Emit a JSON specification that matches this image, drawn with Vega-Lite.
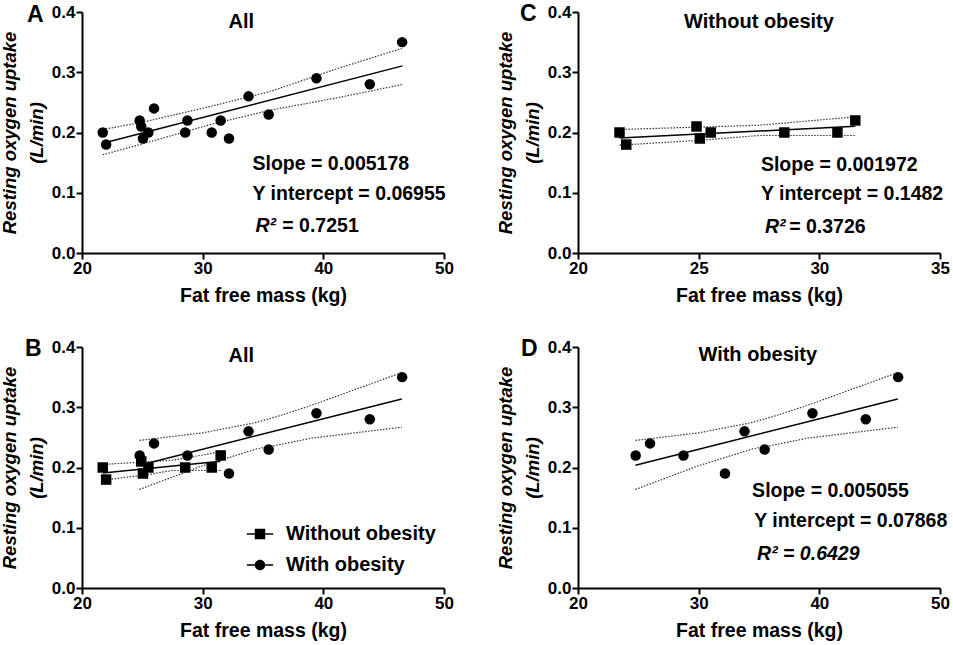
{
  "$schema": "https://vega.github.io/schema/vega-lite/v6.json",
  "background": "white",
  "padding": {"left": 0, "top": 2, "right": 3, "bottom": 3},
  "datasets": {
    "pts": [
      {"group": "Without obesity", "ffm": 21.72, "vo2": 0.20},
      {"group": "Without obesity", "ffm": 22.0, "vo2": 0.18},
      {"group": "Without obesity", "ffm": 24.91, "vo2": 0.21},
      {"group": "Without obesity", "ffm": 25.05, "vo2": 0.19},
      {"group": "Without obesity", "ffm": 25.5, "vo2": 0.20},
      {"group": "Without obesity", "ffm": 28.55, "vo2": 0.20},
      {"group": "Without obesity", "ffm": 30.75, "vo2": 0.20},
      {"group": "Without obesity", "ffm": 31.49, "vo2": 0.22},
      {"group": "With obesity", "ffm": 24.78, "vo2": 0.22},
      {"group": "With obesity", "ffm": 25.97, "vo2": 0.24},
      {"group": "With obesity", "ffm": 28.74, "vo2": 0.22},
      {"group": "With obesity", "ffm": 32.18, "vo2": 0.19},
      {"group": "With obesity", "ffm": 33.8, "vo2": 0.26},
      {"group": "With obesity", "ffm": 35.47, "vo2": 0.23},
      {"group": "With obesity", "ffm": 39.43, "vo2": 0.29},
      {"group": "With obesity", "ffm": 43.85, "vo2": 0.28},
      {"group": "With obesity", "ffm": 46.53, "vo2": 0.35}
    ],
    "fits": [
      {"group": "All", "ffm": 21.72, "vo2": 0.1820},
      {"group": "All", "ffm": 46.56, "vo2": 0.3106},
      {"group": "Without obesity", "ffm": 21.72, "vo2": 0.1910},
      {"group": "Without obesity", "ffm": 31.49, "vo2": 0.2103},
      {"group": "With obesity", "ffm": 24.76, "vo2": 0.2038},
      {"group": "With obesity", "ffm": 46.5, "vo2": 0.3137}
    ],
    "bands": [
      {"group": "All", "band": "All upper", "ffm": 21.72, "vo2": 0.205},
      {"group": "All", "band": "All upper", "ffm": 25.0, "vo2": 0.217},
      {"group": "All", "band": "All upper", "ffm": 30.6, "vo2": 0.243},
      {"group": "All", "band": "All upper", "ffm": 35.6, "vo2": 0.268},
      {"group": "All", "band": "All upper", "ffm": 41.0, "vo2": 0.305},
      {"group": "All", "band": "All upper", "ffm": 46.5, "vo2": 0.3395},
      {"group": "All", "band": "All lower", "ffm": 21.72, "vo2": 0.163},
      {"group": "All", "band": "All lower", "ffm": 25.0, "vo2": 0.181},
      {"group": "All", "band": "All lower", "ffm": 30.6, "vo2": 0.213},
      {"group": "All", "band": "All lower", "ffm": 35.6, "vo2": 0.237},
      {"group": "All", "band": "All lower", "ffm": 41.0, "vo2": 0.257},
      {"group": "All", "band": "All lower", "ffm": 46.5, "vo2": 0.2795},
      {"group": "Without obesity", "band": "Without upper", "ffm": 21.72, "vo2": 0.205},
      {"group": "Without obesity", "band": "Without upper", "ffm": 25.03, "vo2": 0.209},
      {"group": "Without obesity", "band": "Without upper", "ffm": 27.5, "vo2": 0.212},
      {"group": "Without obesity", "band": "Without upper", "ffm": 31.49, "vo2": 0.226},
      {"group": "Without obesity", "band": "Without lower", "ffm": 21.72, "vo2": 0.179},
      {"group": "Without obesity", "band": "Without lower", "ffm": 25.03, "vo2": 0.187},
      {"group": "Without obesity", "band": "Without lower", "ffm": 27.5, "vo2": 0.195},
      {"group": "Without obesity", "band": "Without lower", "ffm": 31.49, "vo2": 0.195},
      {"group": "With obesity", "band": "With upper", "ffm": 24.76, "vo2": 0.245},
      {"group": "With obesity", "band": "With upper", "ffm": 30.0, "vo2": 0.2575},
      {"group": "With obesity", "band": "With upper", "ffm": 34.5, "vo2": 0.275},
      {"group": "With obesity", "band": "With upper", "ffm": 36.65, "vo2": 0.2876},
      {"group": "With obesity", "band": "With upper", "ffm": 39.0, "vo2": 0.303},
      {"group": "With obesity", "band": "With upper", "ffm": 46.5, "vo2": 0.3576},
      {"group": "With obesity", "band": "With lower", "ffm": 24.76, "vo2": 0.1636},
      {"group": "With obesity", "band": "With lower", "ffm": 30.0, "vo2": 0.203},
      {"group": "With obesity", "band": "With lower", "ffm": 34.5, "vo2": 0.231},
      {"group": "With obesity", "band": "With lower", "ffm": 36.65, "vo2": 0.239},
      {"group": "With obesity", "band": "With lower", "ffm": 39.0, "vo2": 0.2486},
      {"group": "With obesity", "band": "With lower", "ffm": 46.5, "vo2": 0.267}
    ]
  },
  "columns": 2,
  "spacing": {"row": 94, "column": 134},
  "bounds": "flush",
  "resolve": {"scale": {"shape": "independent"}, "legend": {"shape": "independent"}},
  "concat": [
    {
      "width": 362, "height": 241,
      "layer": [
        {"data": {"name": "bands"}, "transform": [{"filter": "datum.group === 'All'"}], "mark": {"type": "line", "strokeDash": [1.5, 1.5], "strokeWidth": 1.2, "color": "#333"},
          "encoding": {
            "x": {"field": "ffm", "type": "quantitative", "scale": {"domain": [20, 50]}, "axis": {"values": [20, 30, 40, 50]}, "title": "Fat free mass (kg)"},
            "y": {"field": "vo2", "type": "quantitative", "scale": {"domain": [0, 0.4]}, "axis": {"values": [0, 0.1, 0.2, 0.3, 0.4], "format": ".1f"}, "title": ["Resting oxygen uptake", "(L/min)"]},
            "detail": {"field": "band"}}},
        {"data": {"name": "fits"}, "transform": [{"filter": "datum.group === 'All'"}], "mark": {"type": "line", "strokeWidth": 1.5, "color": "black"},
          "encoding": {
            "x": {"field": "ffm", "type": "quantitative", "scale": {"domain": [20, 50]}, "title": "Fat free mass (kg)"},
            "y": {"field": "vo2", "type": "quantitative", "scale": {"domain": [0, 0.4]}, "title": ["Resting oxygen uptake", "(L/min)"]},
            "detail": {"field": "group"}}},
        {"data": {"name": "pts"}, "mark": {"type": "point", "filled": true, "opacity": 1, "color": "black", "size": 110, "shape": "circle"},
          "encoding": {
            "x": {"field": "ffm", "type": "quantitative", "scale": {"domain": [20, 50]}, "title": "Fat free mass (kg)"},
            "y": {"field": "vo2", "type": "quantitative", "scale": {"domain": [0, 0.4]}, "title": ["Resting oxygen uptake", "(L/min)"]}}},
        {"data": {"values": [{}]}, "mark": {"type": "text", "fontSize": 23, "fontWeight": "bold", "align": "left", "baseline": "middle", "color": "black"}, "encoding": {"x": {"datum": 15.44, "type": "quantitative", "scale": {"domain": [20, 50]}}, "y": {"datum": 0.395, "type": "quantitative", "scale": {"domain": [0, 0.4]}}, "text": {"value": "A"}}},
        {"data": {"values": [{}]}, "mark": {"type": "text", "fontSize": 20, "fontWeight": "bold", "align": "center", "baseline": "middle", "color": "black"}, "encoding": {"x": {"datum": 33.2, "type": "quantitative", "scale": {"domain": [20, 50]}}, "y": {"datum": 0.383, "type": "quantitative", "scale": {"domain": [0, 0.4]}}, "text": {"value": "All"}}},
        {"data": {"values": [{}]}, "mark": {"type": "text", "fontSize": 19.5, "fontWeight": "bold", "align": "left", "baseline": "middle", "color": "black"}, "encoding": {"x": {"datum": 34.13, "type": "quantitative", "scale": {"domain": [20, 50]}}, "y": {"datum": 0.148, "type": "quantitative", "scale": {"domain": [0, 0.4]}}, "text": {"value": "Slope = 0.005178"}}},
        {"data": {"values": [{}]}, "mark": {"type": "text", "fontSize": 19.5, "fontWeight": "bold", "align": "left", "baseline": "middle", "color": "black"}, "encoding": {"x": {"datum": 34.13, "type": "quantitative", "scale": {"domain": [20, 50]}}, "y": {"datum": 0.098, "type": "quantitative", "scale": {"domain": [0, 0.4]}}, "text": {"value": "Y intercept = 0.06955"}}},
        {"data": {"values": [{}]}, "mark": {"type": "text", "fontSize": 19.5, "fontWeight": "bold", "fontStyle": "italic", "align": "left", "baseline": "middle", "color": "black"}, "encoding": {"x": {"datum": 34.38, "type": "quantitative", "scale": {"domain": [20, 50]}}, "y": {"datum": 0.045, "type": "quantitative", "scale": {"domain": [0, 0.4]}}, "text": {"value": "R²"}}},
        {"data": {"values": [{}]}, "mark": {"type": "text", "fontSize": 19.5, "fontWeight": "bold", "align": "left", "baseline": "middle", "color": "black"}, "encoding": {"x": {"datum": 36.6, "type": "quantitative", "scale": {"domain": [20, 50]}}, "y": {"datum": 0.045, "type": "quantitative", "scale": {"domain": [0, 0.4]}}, "text": {"value": "= 0.7251"}}}
      ]
    },
    {
      "width": 362, "height": 241,
      "layer": [
        {"data": {"name": "bands"}, "transform": [{"filter": "datum.group === 'Without obesity'"}], "mark": {"type": "line", "strokeDash": [1.5, 1.5], "strokeWidth": 1.2, "color": "#333"},
          "encoding": {
            "x": {"field": "ffm", "type": "quantitative", "scale": {"domain": [20, 35]}, "axis": {"values": [20, 25, 30, 35]}, "title": "Fat free mass (kg)"},
            "y": {"field": "vo2", "type": "quantitative", "scale": {"domain": [0, 0.4]}, "axis": {"values": [0, 0.1, 0.2, 0.3, 0.4], "format": ".1f"}, "title": ["Resting oxygen uptake", "(L/min)"]},
            "detail": {"field": "band"}}},
        {"data": {"name": "fits"}, "transform": [{"filter": "datum.group === 'Without obesity'"}], "mark": {"type": "line", "strokeWidth": 1.5, "color": "black"},
          "encoding": {
            "x": {"field": "ffm", "type": "quantitative", "scale": {"domain": [20, 35]}, "title": "Fat free mass (kg)"},
            "y": {"field": "vo2", "type": "quantitative", "scale": {"domain": [0, 0.4]}, "title": ["Resting oxygen uptake", "(L/min)"]},
            "detail": {"field": "group"}}},
        {"data": {"name": "pts"}, "transform": [{"filter": "datum.group === 'Without obesity'"}], "mark": {"type": "point", "filled": true, "opacity": 1, "color": "black", "size": 110, "shape": "square"},
          "encoding": {
            "x": {"field": "ffm", "type": "quantitative", "scale": {"domain": [20, 35]}, "title": "Fat free mass (kg)"},
            "y": {"field": "vo2", "type": "quantitative", "scale": {"domain": [0, 0.4]}, "title": ["Resting oxygen uptake", "(L/min)"]}}},
        {"data": {"values": [{}]}, "mark": {"type": "text", "fontSize": 23, "fontWeight": "bold", "align": "left", "baseline": "middle", "color": "black"}, "encoding": {"x": {"datum": 17.6, "type": "quantitative", "scale": {"domain": [20, 35]}}, "y": {"datum": 0.397, "type": "quantitative", "scale": {"domain": [0, 0.4]}}, "text": {"value": "C"}}},
        {"data": {"values": [{}]}, "mark": {"type": "text", "fontSize": 20, "fontWeight": "bold", "align": "center", "baseline": "middle", "color": "black"}, "encoding": {"x": {"datum": 27.5, "type": "quantitative", "scale": {"domain": [20, 35]}}, "y": {"datum": 0.384, "type": "quantitative", "scale": {"domain": [0, 0.4]}}, "text": {"value": "Without obesity"}}},
        {"data": {"values": [{}]}, "mark": {"type": "text", "fontSize": 19.5, "fontWeight": "bold", "align": "left", "baseline": "middle", "color": "black"}, "encoding": {"x": {"datum": 27.58, "type": "quantitative", "scale": {"domain": [20, 35]}}, "y": {"datum": 0.146, "type": "quantitative", "scale": {"domain": [0, 0.4]}}, "text": {"value": "Slope = 0.001972"}}},
        {"data": {"values": [{}]}, "mark": {"type": "text", "fontSize": 19.5, "fontWeight": "bold", "align": "left", "baseline": "middle", "color": "black"}, "encoding": {"x": {"datum": 27.58, "type": "quantitative", "scale": {"domain": [20, 35]}}, "y": {"datum": 0.098, "type": "quantitative", "scale": {"domain": [0, 0.4]}}, "text": {"value": "Y intercept = 0.1482"}}},
        {"data": {"values": [{}]}, "mark": {"type": "text", "fontSize": 19.5, "fontWeight": "bold", "fontStyle": "italic", "align": "left", "baseline": "middle", "color": "black"}, "encoding": {"x": {"datum": 27.75, "type": "quantitative", "scale": {"domain": [20, 35]}}, "y": {"datum": 0.043, "type": "quantitative", "scale": {"domain": [0, 0.4]}}, "text": {"value": "R²"}}},
        {"data": {"values": [{}]}, "mark": {"type": "text", "fontSize": 19.5, "fontWeight": "bold", "align": "left", "baseline": "middle", "color": "black"}, "encoding": {"x": {"datum": 28.75, "type": "quantitative", "scale": {"domain": [20, 35]}}, "y": {"datum": 0.043, "type": "quantitative", "scale": {"domain": [0, 0.4]}}, "text": {"value": "= 0.3726"}}}
      ]
    },
    {
      "width": 362, "height": 241,
      "resolve": {"scale": {"shape": "independent"}},
      "layer": [
        {"data": {"name": "bands"}, "transform": [{"filter": "datum.group !== 'All'"}], "mark": {"type": "line", "strokeDash": [1.5, 1.5], "strokeWidth": 1.2, "color": "#333"},
          "encoding": {
            "x": {"field": "ffm", "type": "quantitative", "scale": {"domain": [20, 50]}, "axis": {"values": [20, 30, 40, 50]}, "title": "Fat free mass (kg)"},
            "y": {"field": "vo2", "type": "quantitative", "scale": {"domain": [0, 0.4]}, "axis": {"values": [0, 0.1, 0.2, 0.3, 0.4], "format": ".1f"}, "title": ["Resting oxygen uptake", "(L/min)"]},
            "detail": {"field": "band"}}},
        {"data": {"name": "fits"}, "transform": [{"filter": "datum.group !== 'All'"}], "mark": {"type": "line", "strokeWidth": 1.5, "color": "black"},
          "encoding": {
            "x": {"field": "ffm", "type": "quantitative", "scale": {"domain": [20, 50]}, "title": "Fat free mass (kg)"},
            "y": {"field": "vo2", "type": "quantitative", "scale": {"domain": [0, 0.4]}, "title": ["Resting oxygen uptake", "(L/min)"]},
            "detail": {"field": "group"}}},
        {"data": {"name": "pts"}, "transform": [{"filter": "datum.group === 'Without obesity'"}], "mark": {"type": "point", "filled": true, "opacity": 1, "color": "black", "size": 110, "shape": "square"},
          "encoding": {
            "x": {"field": "ffm", "type": "quantitative", "scale": {"domain": [20, 50]}, "title": "Fat free mass (kg)"},
            "y": {"field": "vo2", "type": "quantitative", "scale": {"domain": [0, 0.4]}, "title": ["Resting oxygen uptake", "(L/min)"]}}},
        {"data": {"name": "pts"}, "transform": [{"filter": "datum.group === 'With obesity'"}], "mark": {"type": "point", "filled": true, "opacity": 1, "color": "black", "size": 110, "shape": "circle"},
          "encoding": {
            "x": {"field": "ffm", "type": "quantitative", "scale": {"domain": [20, 50]}, "title": "Fat free mass (kg)"},
            "y": {"field": "vo2", "type": "quantitative", "scale": {"domain": [0, 0.4]}, "title": ["Resting oxygen uptake", "(L/min)"]}}},
        {"data": {"name": "pts"}, "transform": [{"filter": "datum.vo2 > 1"}], "mark": {"type": "point", "filled": true, "color": "black", "opacity": 1, "size": 110},
          "encoding": {
            "x": {"field": "ffm", "type": "quantitative", "scale": {"domain": [20, 50]}, "title": "Fat free mass (kg)"},
            "y": {"field": "vo2", "type": "quantitative", "scale": {"domain": [0, 0.4]}, "title": ["Resting oxygen uptake", "(L/min)"]},
            "shape": {"field": "group", "type": "nominal",
              "scale": {"domain": ["Without obesity", "With obesity"], "range": ["M-2.5,-0.14H-1V0.14H-2.5ZM1,-0.14H2.5V0.14H1ZM-1,-1H1V1H-1Z", "M-2.5,-0.14H-1V0.14H-2.5ZM1,-0.14H2.5V0.14H1ZM-1,0A1,1,0,1,1,1,0A1,1,0,1,1,-1,0Z"]},
              "legend": {"title": null, "orient": "none", "legendX": 168, "legendY": 177, "padding": 0, "labelFontSize": 20, "labelFontWeight": "bold", "labelColor": "black", "labelLimit": 300, "labelOffset": 16, "rowPadding": 11, "symbolSize": 110, "symbolFillColor": "black", "symbolStrokeWidth": 0, "symbolOpacity": 1}}}},
        {"data": {"values": [{}]}, "mark": {"type": "text", "fontSize": 23, "fontWeight": "bold", "align": "left", "baseline": "middle", "color": "black"}, "encoding": {"x": {"datum": 15.28, "type": "quantitative", "scale": {"domain": [20, 50]}}, "y": {"datum": 0.397, "type": "quantitative", "scale": {"domain": [0, 0.4]}}, "text": {"value": "B"}}},
        {"data": {"values": [{}]}, "mark": {"type": "text", "fontSize": 20, "fontWeight": "bold", "align": "center", "baseline": "middle", "color": "black"}, "encoding": {"x": {"datum": 33.2, "type": "quantitative", "scale": {"domain": [20, 50]}}, "y": {"datum": 0.385, "type": "quantitative", "scale": {"domain": [0, 0.4]}}, "text": {"value": "All"}}}
      ]
    },
    {
      "width": 362, "height": 241,
      "layer": [
        {"data": {"name": "bands"}, "transform": [{"filter": "datum.group === 'With obesity'"}], "mark": {"type": "line", "strokeDash": [1.5, 1.5], "strokeWidth": 1.2, "color": "#333"},
          "encoding": {
            "x": {"field": "ffm", "type": "quantitative", "scale": {"domain": [20, 50]}, "axis": {"values": [20, 30, 40, 50]}, "title": "Fat free mass (kg)"},
            "y": {"field": "vo2", "type": "quantitative", "scale": {"domain": [0, 0.4]}, "axis": {"values": [0, 0.1, 0.2, 0.3, 0.4], "format": ".1f"}, "title": ["Resting oxygen uptake", "(L/min)"]},
            "detail": {"field": "band"}}},
        {"data": {"name": "fits"}, "transform": [{"filter": "datum.group === 'With obesity'"}], "mark": {"type": "line", "strokeWidth": 1.5, "color": "black"},
          "encoding": {
            "x": {"field": "ffm", "type": "quantitative", "scale": {"domain": [20, 50]}, "title": "Fat free mass (kg)"},
            "y": {"field": "vo2", "type": "quantitative", "scale": {"domain": [0, 0.4]}, "title": ["Resting oxygen uptake", "(L/min)"]},
            "detail": {"field": "group"}}},
        {"data": {"name": "pts"}, "transform": [{"filter": "datum.group === 'With obesity'"}], "mark": {"type": "point", "filled": true, "opacity": 1, "color": "black", "size": 110, "shape": "circle"},
          "encoding": {
            "x": {"field": "ffm", "type": "quantitative", "scale": {"domain": [20, 50]}, "title": "Fat free mass (kg)"},
            "y": {"field": "vo2", "type": "quantitative", "scale": {"domain": [0, 0.4]}, "title": ["Resting oxygen uptake", "(L/min)"]}}},
        {"data": {"values": [{}]}, "mark": {"type": "text", "fontSize": 23, "fontWeight": "bold", "align": "left", "baseline": "middle", "color": "black"}, "encoding": {"x": {"datum": 15.28, "type": "quantitative", "scale": {"domain": [20, 50]}}, "y": {"datum": 0.397, "type": "quantitative", "scale": {"domain": [0, 0.4]}}, "text": {"value": "D"}}},
        {"data": {"values": [{}]}, "mark": {"type": "text", "fontSize": 20, "fontWeight": "bold", "align": "center", "baseline": "middle", "color": "black"}, "encoding": {"x": {"datum": 34.9, "type": "quantitative", "scale": {"domain": [20, 50]}}, "y": {"datum": 0.387, "type": "quantitative", "scale": {"domain": [0, 0.4]}}, "text": {"value": "With obesity"}}},
        {"data": {"values": [{}]}, "mark": {"type": "text", "fontSize": 19.5, "fontWeight": "bold", "align": "left", "baseline": "middle", "color": "black"}, "encoding": {"x": {"datum": 34.43, "type": "quantitative", "scale": {"domain": [20, 50]}}, "y": {"datum": 0.161, "type": "quantitative", "scale": {"domain": [0, 0.4]}}, "text": {"value": "Slope = 0.005055"}}},
        {"data": {"values": [{}]}, "mark": {"type": "text", "fontSize": 19.5, "fontWeight": "bold", "align": "left", "baseline": "middle", "color": "black"}, "encoding": {"x": {"datum": 34.6, "type": "quantitative", "scale": {"domain": [20, 50]}}, "y": {"datum": 0.111, "type": "quantitative", "scale": {"domain": [0, 0.4]}}, "text": {"value": "Y intercept = 0.07868"}}},
        {"data": {"values": [{}]}, "mark": {"type": "text", "fontSize": 19.5, "fontWeight": "bold", "fontStyle": "italic", "align": "left", "baseline": "middle", "color": "black"}, "encoding": {"x": {"datum": 34.84, "type": "quantitative", "scale": {"domain": [20, 50]}}, "y": {"datum": 0.056, "type": "quantitative", "scale": {"domain": [0, 0.4]}}, "text": {"value": "R² = 0.6429"}}}
      ]
    }
  ],
  "config": {
    "font": "Liberation Sans",
    "view": {"stroke": null},
    "axis": {
      "grid": false,
      "domainColor": "black", "domainWidth": 2,
      "tickColor": "black", "tickWidth": 2, "tickSize": 6,
      "labelFont": "Liberation Sans", "labelFontSize": 17, "labelFontWeight": "bold", "labelColor": "black", "labelPadding": 1, "labelFlush": false,
      "titleFont": "Liberation Sans", "titleFontSize": 19.5, "titleFontWeight": "bold", "titleColor": "black"
    },
    "axisY": {"titleFontStyle": "italic", "titleFontSize": 18.5, "titleLineHeight": 27, "titlePadding": 5},
    "axisX": {"titlePadding": 10}
  }
}
